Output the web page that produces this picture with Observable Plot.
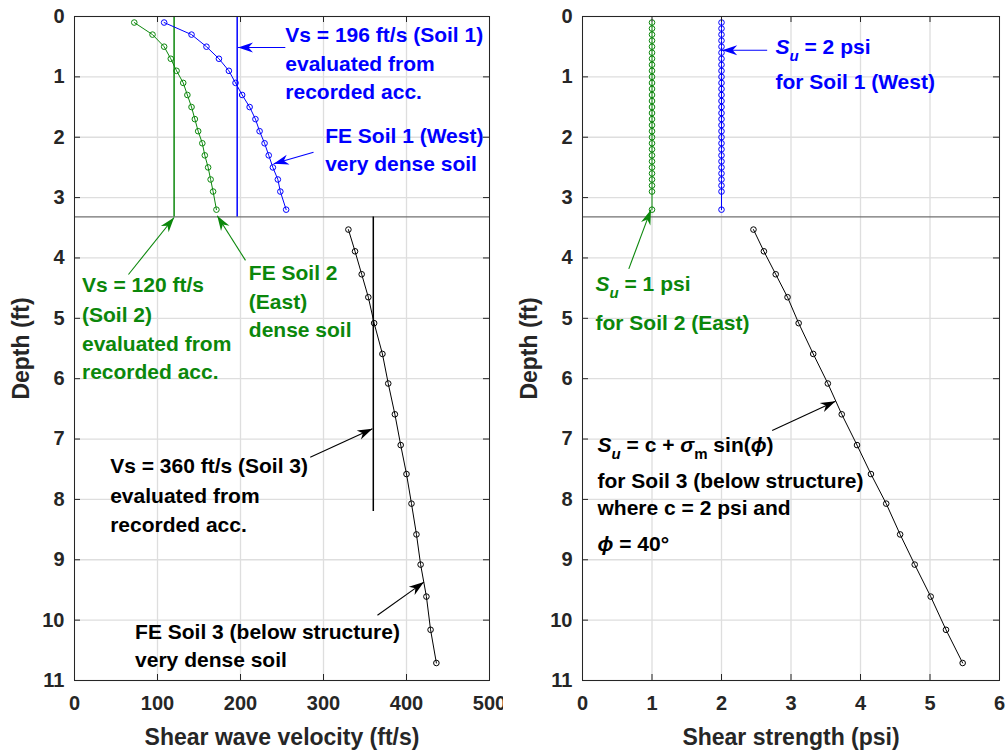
<!DOCTYPE html>
<html><head><meta charset="utf-8">
<script src="https://cdn.jsdelivr.net/npm/d3@7"></script>
<script src="https://cdn.jsdelivr.net/npm/@observablehq/plot@0.6"></script>
<style>
html,body{margin:0;padding:0;background:#fff;}
#wrap{display:flex;width:1006px;height:753px;overflow:hidden;}
#wrap svg{display:block;}
#wrap svg text{font-family:"Liberation Sans",Arial,Helvetica,sans-serif;font-weight:bold;}
#wrap g[aria-label$="tick label"] text{font-size:20px;fill:#262626;}
#wrap g[aria-label$="axis label"] text{font-size:23px;fill:#262626;}
</style></head><body><div id="wrap"></div>
<script>
// ---------- tick labels ----------
const depthTicks = [0,1,2,3,4,5,6,7,8,9,10,11];
const vsTicks = [0,100,200,300,400,500];
const suTicks = [0,1,2,3,4,5,6];
const layerBoundary = [3.32];

// ---------- shear wave velocity (left) ----------
const soil12Depth = [0.1,0.3,0.5,0.7,0.9,1.1,1.3,1.5,1.7,1.9,2.1,2.3,2.5,2.7,2.9,3.2];
const vsSoil1 = [108,141,159,174,186,194,202,211,218,223,229,234,239,245,248,255];
const vsSoil2 = [72,94,108,116,123,131,136,141,145,149,154,157,161,164,167,171];
const soil3Depth = [3.53,3.89,4.27,4.65,5.08,5.59,6.08,6.59,7.10,7.58,8.07,8.58,9.08,9.61,10.16,10.71];
const vsSoil3 = [330,338,346,354,361,371,378,386,393,400,406,412,417,424,429,436];
// evaluated from recorded acc.
const vsRecordedSoil = ["Soil 1","Soil 2","Soil 3"];
const vsRecorded = [196,120,360];
const vsRecordedTop = [0,0,3.32];
const vsRecordedBottom = [3.32,3.32,8.2];

// ---------- shear strength (right) ----------
const suDepth = [0.1,0.2,0.3,0.4,0.5,0.6,0.7,0.8,0.9,1.0,1.1,1.2,1.3,1.4,1.5,1.6,1.7,1.8,1.9,2.0,2.1,2.2,2.3,2.4,2.5,2.6,2.7,2.8,2.9,3.2];
const suSoil1 = [2,2,2,2,2,2,2,2,2,2,2,2,2,2,2,2,2,2,2,2,2,2,2,2,2,2,2,2,2,2];
const suSoil2 = [1,1,1,1,1,1,1,1,1,1,1,1,1,1,1,1,1,1,1,1,1,1,1,1,1,1,1,1,1,1];
const suSoil3 = [2.46,2.61,2.78,2.95,3.11,3.32,3.53,3.73,3.95,4.15,4.37,4.57,4.78,5.01,5.23,5.47];

// ---------- annotations ----------
const BLUE = "#0000ff", GREEN = "#0b870b", BLACK = "#000000";
const leftNotes = [
  {x:254, y:0.315, text:"Vs = 196 ft/s (Soil 1)", c:BLUE},
  {x:254, y:0.784, text:"evaluated from", c:BLUE},
  {x:254, y:1.254, text:"recorded acc.", c:BLUE},
  {x:302, y:1.983, text:"FE Soil 1 (West)", c:BLUE},
  {x:302, y:2.452, text:"very dense soil", c:BLUE},
  {x:9, y:4.456, text:"Vs = 120 ft/s", c:GREEN},
  {x:9, y:4.953, text:"(Soil 2)", c:GREEN},
  {x:9, y:5.422, text:"evaluated from", c:GREEN},
  {x:9, y:5.892, text:"recorded acc.", c:GREEN},
  {x:210, y:4.246, text:"FE Soil 2", c:GREEN},
  {x:210, y:4.733, text:"(East)", c:GREEN},
  {x:210, y:5.202, text:"dense soil", c:GREEN},
  {x:43, y:7.45, text:"Vs = 360 ft/s (Soil 3)", c:BLACK},
  {x:43, y:7.94, text:"evaluated from", c:BLACK},
  {x:43, y:8.43, text:"recorded acc.", c:BLACK},
  {x:73, y:10.205, text:"FE Soil 3 (below structure)", c:BLACK},
  {x:73, y:10.668, text:"very dense soil", c:BLACK}
];
const leftArrows = [
  {x1:254, y1:0.514, x2:197, y2:0.514, c:BLUE},
  {x1:288, y1:2.248, x2:240, y2:2.44, c:BLUE},
  {x1:65, y1:4.274, x2:120, y2:3.33, c:GREEN},
  {x1:206, y1:4.04, x2:172, y2:3.30, c:GREEN},
  {x1:284, y1:7.30, x2:359, y2:6.83, c:BLACK},
  {x1:365, y1:9.92, x2:421, y2:9.37, c:BLACK}
];
const rightNotes = [
  {x:2.777, y:0.514, text:"S_u = 2 psi", c:BLUE},
  {x:2.777, y:1.093, text:"for Soil 1 (West)", c:BLUE},
  {x:0.187, y:4.428, text:"S_u = 1 psi", c:GREEN},
  {x:0.187, y:5.074, text:"for Soil 2 (East)", c:GREEN},
  {x:0.216, y:7.107, text:"S_u = c + σ_m sin(ϕ)", c:BLACK},
  {x:0.216, y:7.698, text:"for Soil 3 (below structure)", c:BLACK},
  {x:0.216, y:8.155, text:"where c = 2 psi and", c:BLACK},
  {x:0.216, y:8.735, text:"ϕ = 40°", c:BLACK}
];
const rightArrows = [
  {x1:2.657, y1:0.56, x2:2.01, y2:0.56, c:BLUE},
  {x1:0.666, y1:4.18, x2:0.985, y2:3.2, c:GREEN},
  {x1:2.729, y1:6.858, x2:3.640, y2:6.373, c:BLACK}
];

// ---------- tables ----------
const soil1 = soil12Depth.map((d,i)=>({depth:d, v:vsSoil1[i]}));
const soil2 = soil12Depth.map((d,i)=>({depth:d, v:vsSoil2[i]}));
const soil3 = soil3Depth.map((d,i)=>({depth:d, v:vsSoil3[i]}));
const recorded = vsRecordedSoil.map((s,i)=>({soil:s, v:vsRecorded[i], top:vsRecordedTop[i], bottom:vsRecordedBottom[i]}));
const su1 = suDepth.map((d,i)=>({depth:d, v:suSoil1[i]}));
const su2 = suDepth.map((d,i)=>({depth:d, v:suSoil2[i]}));
const su3 = soil3Depth.map((d,i)=>({depth:d, v:suSoil3[i]}));
const recColor = [BLUE, GREEN, BLACK];

const W = 503, H = 753, MT = 16, MB = 73;
const FH = H - MT - MB;

function frameMarks(xTicks){
  return [
    Plot.gridX(xTicks, {stroke:"#dedede", strokeOpacity:1, strokeWidth:1.3}),
    Plot.gridY(depthTicks, {stroke:"#dedede", strokeOpacity:1, strokeWidth:1.3}),
    Plot.ruleY(layerBoundary, {stroke:"#707070", strokeWidth:1.2}),
  ];
}
function boxMarks(xTicks, FW){
  return [
    Plot.tickX(xTicks, {x:d=>d, insetTop:FH-6, stroke:"#262626"}),
    Plot.tickX(xTicks, {x:d=>d, insetBottom:FH-6, stroke:"#262626"}),
    Plot.tickY(depthTicks, {y:d=>d, insetRight:FW-6, stroke:"#262626"}),
    Plot.tickY(depthTicks, {y:d=>d, insetLeft:FW-6, stroke:"#262626"}),
    Plot.frame({stroke:"#262626", strokeWidth:1}),
  ];
}
function curve(data, color){
  return [
    Plot.line(data, {x:"v", y:"depth", stroke:color, strokeWidth:1}),
    Plot.dot(data, {x:"v", y:"depth", r:2.8, stroke:color, strokeWidth:1, fill:"none"})
  ];
}
function notes(list){
  const out = [];
  for (const c of [BLUE, GREEN, BLACK]) {
    const n = list.filter(d=>d.c===c);
    out.push(Plot.text(n, {x:"x", y:"y", text:"text", fill:c, textAnchor:"start", fontSize:21, fontWeight:"bold"}));
  }
  return out;
}
function arrows(list){
  const out = [];
  for (const c of [BLUE, GREEN, BLACK]) {
    const n = list.filter(d=>d.c===c);
    out.push(Plot.link(n, {x1:"x1", y1:"y1", x2:"x2", y2:"y2", stroke:c, strokeWidth:1.1}));
  }
  return out;
}
function axes(xTicks, xLabel){
  return [
    Plot.axisX(xTicks, {tickSize:0, tickPadding:15, tickFormat:d3.format("d"), label:xLabel, labelArrow:"none", labelAnchor:"center", labelOffset:64}),
    Plot.axisY(depthTicks, {tickSize:0, tickPadding:10, tickFormat:d3.format("d"), label:"Depth (ft)", labelArrow:"none", labelAnchor:"center", labelOffset:62})
  ];
}

const FWL = W - 74 - 14;
const left = Plot.plot({
  width:W, height:H, marginLeft:74, marginRight:14, marginTop:MT, marginBottom:MB,
  style:{background:"white", color:"#262626", overflow:"visible"},
  x:{domain:[0,500]}, y:{domain:[0,11], reverse:true},
  marks:[
    ...frameMarks(vsTicks),
    Plot.ruleX(recorded, {x:"v", y1:"top", y2:"bottom", stroke:(d,i)=>recColor[i], strokeWidth:1.5}),
    ...curve(soil1, BLUE), ...curve(soil2, GREEN), ...curve(soil3, BLACK),
    ...arrows(leftArrows), ...notes(leftNotes),
    ...boxMarks(vsTicks, FWL),
    ...axes(vsTicks, "Shear wave velocity (ft/s)")
  ]
});

const FWR = W - 79 - 7;
const right = Plot.plot({
  width:W, height:H, marginLeft:79, marginRight:7, marginTop:MT, marginBottom:MB,
  style:{background:"white", color:"#262626", overflow:"visible"},
  x:{domain:[0,6]}, y:{domain:[0,11], reverse:true},
  marks:[
    ...frameMarks(suTicks),
    ...curve(su1, BLUE), ...curve(su2, GREEN), ...curve(su3, BLACK),
    ...arrows(rightArrows), ...notes(rightNotes),
    ...boxMarks(suTicks, FWR),
    ...axes(suTicks, "Shear strength (psi)")
  ]
});

const wrap = document.getElementById("wrap");
wrap.appendChild(left); wrap.appendChild(right);

const NS = "http://www.w3.org/2000/svg";
let mid = 0;
function addArrowheads(svg){
  let defs = svg.querySelector("defs");
  if (!defs) { defs = document.createElementNS(NS, "defs"); svg.insertBefore(defs, svg.firstChild); }
  const byColor = new Map();
  svg.querySelectorAll('g[aria-label="link"] path').forEach(p => {
    const col = getComputedStyle(p).stroke;
    let id = byColor.get(col);
    if (!id) {
      id = "ah" + (mid++);
      const m = document.createElementNS(NS, "marker");
      m.setAttribute("id", id);
      m.setAttribute("viewBox", "-16 -6 17 12");
      m.setAttribute("refX", 0); m.setAttribute("refY", 0);
      m.setAttribute("markerWidth", 17); m.setAttribute("markerHeight", 12);
      m.setAttribute("markerUnits", "userSpaceOnUse");
      m.setAttribute("orient", "auto");
      const path = document.createElementNS(NS, "path");
      path.setAttribute("d", "M0,0L-15,-5L-10.5,0L-15,5Z");
      path.setAttribute("fill", col);
      m.appendChild(path); defs.appendChild(m);
      byColor.set(col, id);
    }
    p.setAttribute("marker-end", `url(#${id})`);
  });
}
function cleanLabels(svg){
  svg.querySelectorAll('g[aria-label$="axis label"] text').forEach(t => {
    t.textContent = t.textContent.replace(/[\u2190-\u2193]/g, "").trim();
  });
}
function richify(svg){
  svg.querySelectorAll("text").forEach(el => {
    if (el.children.length) return;
    const s = el.textContent;
    if (!/[_ϕσ]/.test(s)) return;
    el.textContent = "";
    const re = /([Sσ])_(\w)|(ϕ)/g;
    let last = 0, m, pending = 0;
    const add = (txt, attrs) => {
      const t = document.createElementNS(NS, "tspan");
      for (const k in attrs) t.setAttribute(k, attrs[k]);
      if (pending) { t.setAttribute("dy", -pending); pending = 0; }
      t.textContent = txt; el.appendChild(t); return t;
    };
    while ((m = re.exec(s))) {
      if (m.index > last) add(s.slice(last, m.index), {});
      if (m[3]) add("ϕ", {"font-style":"italic"});
      else {
        add(m[1], {"font-style":"italic"});
        const sub = add(m[2], {"font-style": m[1]==="S" ? "italic" : "normal", "font-size":"15px"});
        sub.setAttribute("dy", 7); pending = 7;
      }
      last = re.lastIndex;
    }
    if (last < s.length) add(s.slice(last), {});
    else if (pending) add("\u200B", {});
  });
}
for (const svg of [left, right]) { addArrowheads(svg); cleanLabels(svg); richify(svg); }
</script></body></html>
